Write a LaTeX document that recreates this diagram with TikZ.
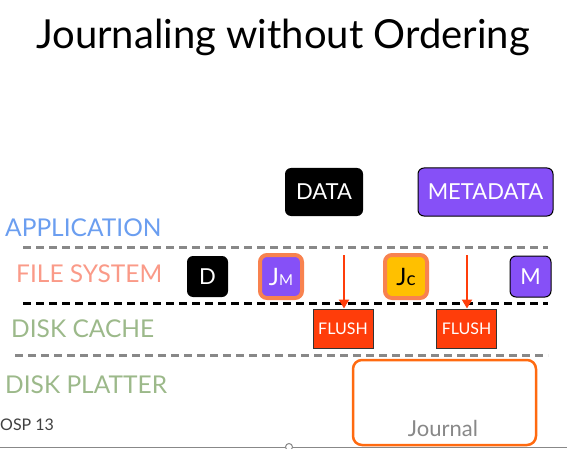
\documentclass[tikz,border=0pt]{standalone}
\usepackage{fontspec}
\setmainfont{Lato}
\usetikzlibrary{arrows.meta}
\definecolor{appblue}{HTML}{6B9EF0}
\definecolor{fssalmon}{HTML}{FA9A88}
\definecolor{diskgreen}{HTML}{9CB98A}
\definecolor{metapurple}{HTML}{8650F7}
\definecolor{jorange}{HTML}{F8824F}
\definecolor{jyellow}{HTML}{FFC000}
\definecolor{flushred}{HTML}{FF3D0A}
\definecolor{journalorange}{HTML}{FF6A10}
\definecolor{sepgray}{HTML}{888888}
\tikzset{
  layerlabel/.style={anchor=west, inner sep=0pt, font=\fontsize{24.5}{28}\selectfont},
  sepline/.style={line width=3pt, dash pattern=on 8pt off 5pt},
  blockbox/.style={rounded corners=6pt, minimum height=41pt, inner sep=0pt, font=\fontsize{22}{26}\selectfont, text=white},
  jbox/.style={rounded corners=7pt, line width=4pt, draw=jorange, minimum width=42pt, minimum height=43pt, inner sep=0pt, font=\fontsize{24}{28}\selectfont},
  flushbox/.style={fill=flushred, draw=black!80, line width=1pt, minimum width=60pt, minimum height=39pt, inner sep=0pt, text=white, font=\fontsize{16}{18}\selectfont},
  flusharrow/.style={draw=flushred, line width=2pt, -{Triangle[length=9pt,width=10pt]}},
}
\begin{document}
\begin{tikzpicture}[x=1pt,y=-1pt]
\useasboundingbox (0,0) rectangle (567,449);
% title
\node[inner sep=0pt, font=\fontsize{40}{46}\selectfont] (title) at (283,37) {Journaling without Ordering};
% layer labels
\node[layerlabel, text=appblue] (app) at (5,228) {APPLICATION};
\node[layerlabel, text=fssalmon] (fs) at (16,274) {FILE SYSTEM};
\node[layerlabel, text=diskgreen] (cache) at (11,329) {DISK CACHE};
\node[layerlabel, text=diskgreen] (platter) at (5,385) {DISK PLATTER};
\node[anchor=west, inner sep=0pt, text=black!75, font=\fontsize{16}{18}\selectfont] (osp) at (0,425) {OSP 13};
% separators
\coordinate (s1a) at (23,247); \coordinate (s1b) at (548,247);
\coordinate (s2a) at (23,303); \coordinate (s2b) at (548,303);
\coordinate (s3a) at (15,355); \coordinate (s3b) at (548,355);
\draw[sepline, draw=sepgray] (s1a) -- (s1b);
\draw[sepline, draw=black] (s2a) -- (s2b);
\draw[sepline, draw=sepgray] (s3a) -- (s3b);
% application blocks
\node[blockbox, fill=black, minimum width=78pt, minimum height=48pt] (data) at (324,192) {DATA};
\node[blockbox, fill=metapurple, draw=black, line width=1pt, minimum width=135pt, minimum height=48pt] (meta) at (485.5,192) {METADATA};
% file system blocks
\node[blockbox, fill=black, minimum width=41pt] (d) at (207.5,276.5) {D};
\node[jbox, fill=metapurple, text=white] (jm) at (281,276.5) {J{\fontsize{15}{15}\selectfont M}};
\node[jbox, fill=jyellow, text=black] (jc) at (406,276.5) {J{\fontsize{19}{19}\selectfont c}};
\node[blockbox, fill=metapurple, draw=black, line width=1pt, minimum width=41pt] (m) at (530.5,276.5) {M};
% flushes
\node[flushbox] (f1) at (343,328.5) {FLUSH};
\node[flushbox] (f2) at (466.5,328.5) {FLUSH};
\coordinate (a1) at (344,255);
\coordinate (a2) at (467,255);
\draw[flusharrow] (a1) -- (a1 |- f1.north);
\draw[flusharrow] (a2) -- (a2 |- f2.north);
% journal
\node[draw=journalorange, line width=2.5pt, rounded corners=9pt, fill=white, minimum width=183pt, minimum height=85pt, inner sep=0pt] (journal) at (444.5,402.5) {};
\node[text=sepgray, inner sep=0pt, font=\fontsize{22}{26}\selectfont] (jlabel) at (443,428) {Journal};
% bottom rule
\coordinate (b1) at (0,447.5); \coordinate (b2) at (567,447.5);
\draw[sepgray, line width=1pt] (b1) -- (b2);
\node[circle, draw=sepgray, fill=white, line width=1pt, minimum size=7pt, inner sep=0pt] (knob) at (289,447) {};
\end{tikzpicture}
\end{document}
